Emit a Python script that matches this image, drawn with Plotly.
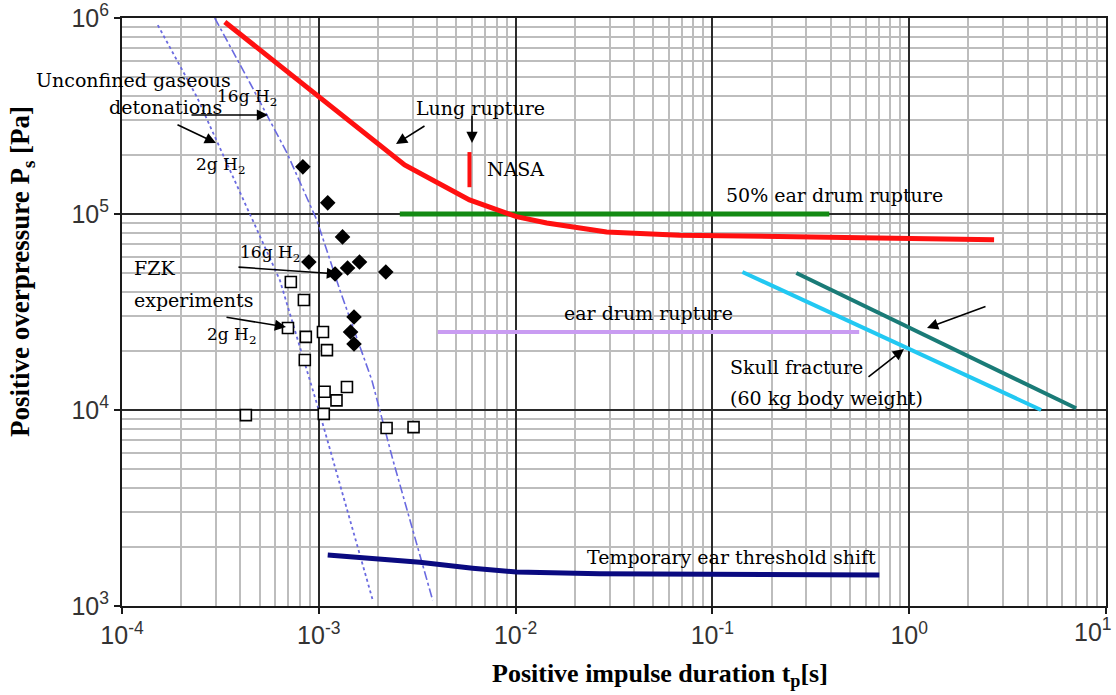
import plotly.graph_objects as go

# ---------------- data ----------------
lung_x = [3.33e-4, 1.0e-3, 2.73e-3, 5.83e-3, 1.01e-2, 1.44e-2, 2.9e-2, 6.8e-2, 2.7]
lung_y = [9.55e5, 4.0e5, 1.78e5, 1.18e5, 9.7e4, 9.0e4, 8.1e4, 7.8e4, 7.4e4]
nasa_x = [5.83e-3, 5.83e-3]
nasa_y = [2.07e5, 1.37e5]
ear50_x = [2.58e-3, 0.393]
ear50_y = [1.0e5, 1.0e5]
ear_x = [4.02e-3, 0.557]
ear_y = [2.5e4, 2.5e4]
skull_x = [0.142, 4.68]
skull_y = [5.06e4, 1.0e4]
skull2_x = [0.267, 7.05]
skull2_y = [5.0e4, 1.02e4]
tts_x = [1.11e-3, 3.26e-3, 6.05e-3, 1.01e-2, 2.67e-2, 0.705]
tts_y = [1.82e3, 1.67e3, 1.56e3, 1.49e3, 1.46e3, 1.44e3]
det2_x = [1.52e-4, 2.40e-4, 3.66e-4, 6.34e-4, 1.01e-3, 1.56e-3, 1.88e-3]
det2_y = [9.2e5, 3.96e5, 1.55e5, 4.6e4, 9.66e3, 2.09e3, 1.07e3]
det16_x = [2.96e-4, 4.47e-4, 6.89e-4, 9.77e-4, 1.28e-3, 1.86e-3, 2.38e-3, 3.26e-3, 3.79e-3]
det16_y = [1.0e6, 4.66e5, 2.05e5, 9.31e4, 4.09e4, 1.42e4, 5.56e3, 1.86e3, 1.07e3]
fzk16_x = [8.3e-4, 1.11e-3, 1.32e-3, 8.9e-4, 1.21e-3, 1.40e-3, 1.61e-3, 2.19e-3, 1.51e-3, 1.45e-3, 1.51e-3]
fzk16_y = [1.74e5, 1.14e5, 7.64e4, 5.69e4, 4.94e4, 5.30e4, 5.69e4, 5.06e4, 2.98e4, 2.50e4, 2.17e4]
fzk2_x = [7.21e-4, 8.40e-4, 6.97e-4, 8.59e-4, 1.05e-3, 1.10e-3, 8.49e-4, 1.07e-3, 1.39e-3, 1.23e-3, 1.06e-3, 4.26e-4, 2.21e-3, 3.03e-3]
fzk2_y = [4.50e4, 3.64e4, 2.62e4, 2.36e4, 2.50e4, 2.02e4, 1.80e4, 1.24e4, 1.31e4, 1.12e4, 9.55e3, 9.42e3, 8.09e3, 8.18e3]

x_tickvals = [1e-4, 1e-3, 1e-2, 1e-1, 1e0, 1e1]
x_ticktext = ["10<sup>-4</sup>", "10<sup>-3</sup>", "10<sup>-2</sup>", "10<sup>-1</sup>", "10<sup>0</sup>", "10<sup>1</sup>"]
y_tickvals = [1e3, 1e4, 1e5, 1e6]
y_ticktext = ["10<sup>3</sup>", "10<sup>4</sup>", "10<sup>5</sup>", "10<sup>6</sup>"]

# ---------------- layout geometry ----------------
W, H = 1116, 695
ML, MR, MT, MB = 122, 10, 18, 89
PW, PH = W - ML - MR, H - MT - MB

def pos(px, py):
    """pixel position -> log-axis coordinates (for annotation placement)"""
    return -4 + 5 * (px - ML) / PW, 6 - 3 * (py - MT) / PH

fig = go.Figure()

def line(x, y, color, width, dash="solid"):
    fig.add_trace(go.Scatter(x=x, y=y, mode="lines",
                             line=dict(color=color, width=width, dash=dash),
                             showlegend=False, hoverinfo="skip"))

line(det2_x, det2_y, "#6a6ae0", 1.8, "dot")
line(det16_x, det16_y, "#6a6ae0", 1.6, "dashdot")
line(ear50_x, ear50_y, "#138a13", 5)
line(ear_x, ear_y, "#c99cf2", 4)
line(lung_x, lung_y, "#ff1010", 5)
line(nasa_x, nasa_y, "#ff1010", 4)
line(skull_x, skull_y, "#22c8f2", 4)
line(skull2_x, skull2_y, "#1a7b77", 4)
line(tts_x, tts_y, "#0a0a80", 5)

fig.add_trace(go.Scatter(x=fzk16_x, y=fzk16_y, mode="markers",
                         marker=dict(symbol="diamond", size=12, color="black"),
                         showlegend=False, hoverinfo="skip"))
fig.add_trace(go.Scatter(x=fzk2_x, y=fzk2_y, mode="markers",
                         marker=dict(symbol="square", size=11, color="white",
                                     line=dict(color="black", width=1.6)),
                         showlegend=False, hoverinfo="skip"))

SERIF = "DejaVu Serif"
TICKFONT = dict(family="Liberation Sans", size=25, color="#333333")
ann = []

def text(px, py, s, size=19, xanchor="center"):
    x, y = pos(px, py)
    ann.append(dict(x=x, y=y, xref="x", yref="y", text=s, showarrow=False,
                    xanchor=xanchor, yanchor="middle",
                    font=dict(family=SERIF, size=size, color="black")))

def arrow(tx, ty, hx, hy):
    x, y = pos(hx, hy)
    ann.append(dict(x=x, y=y, xref="x", yref="y", text="", showarrow=True,
                    ax=tx - hx, ay=ty - hy, arrowhead=2, arrowsize=1.4,
                    arrowwidth=1.6, arrowcolor="black"))

text(133, 80, "Unconfined gaseous")
text(165, 107, "detonations")
text(247, 97, "16g H<sub>2</sub>", size=17)
text(221, 165, "2g H<sub>2</sub>", size=17)
arrow(190, 115, 268, 115)
arrow(176, 124, 216, 143)
text(480, 108, "Lung rupture")
arrow(426, 125, 396, 144)
arrow(472, 114, 472, 143)
text(485, 169, "NASA", xanchor="left")
text(834, 195, "50% ear drum rupture")
text(648, 313, "ear drum rupture")
text(728, 367, "Skull fracture", xanchor="left")
text(728, 398, "(60 kg body weight)", xanchor="left")
arrow(867, 378, 904, 349)
arrow(987, 306, 927, 328)
text(132, 268, "FZK", xanchor="left")
text(132, 300, "experiments", xanchor="left")
text(270, 253, "16g H<sub>2</sub>", size=17)
text(232, 335, "2g H<sub>2</sub>", size=17)
arrow(237, 267, 338, 274)
arrow(225, 317, 286, 327)
text(878, 557, "Temporary ear threshold shift", xanchor="right")

# last x tick label kept inside the page (right-anchored at the edge)
ann.append(dict(x=(W - 2 - ML) / PW, y=-(630 - MT - PH) / PH, xref="paper", yref="paper",
                text=x_ticktext[-1], showarrow=False, xanchor="right", yanchor="middle",
                font=TICKFONT))
x_ticktext_axis = x_ticktext[:-1] + [""]

# axis titles
ann.append(dict(x=(660 - ML) / PW, y=-(675 - MT - PH) / PH, xref="paper", yref="paper",
                text="<b>Positive impulse duration t<sub>p</sub>[s]</b>", showarrow=False,
                xanchor="center", yanchor="middle",
                font=dict(family="Liberation Serif", size=26, color="black")))
ann.append(dict(x=(22 - ML) / PW, y=1 - (272 - MT) / PH, xref="paper", yref="paper",
                text="<b>Positive overpressure P<sub>s</sub> [Pa]</b>", showarrow=False,
                textangle=-90, xanchor="center", yanchor="middle",
                font=dict(family="Liberation Serif", size=27, color="black")))

axis_common = dict(
    type="log", showgrid=True, gridcolor="#2a2a2a", gridwidth=1.5,
    showline=True, linecolor="#1a1a1a", linewidth=2, mirror=True,
    ticks="outside", ticklen=6, tickcolor="#1a1a1a", tickwidth=1.5,
    tickfont=TICKFONT,
    zeroline=False, ticklabeloverflow="allow", automargin=False,
    minor=dict(dtick="D1", showgrid=True, gridcolor="#bdbdbd", gridwidth=1.5, ticks=""),
)
fig.update_xaxes(range=[-4, 1], tickvals=x_tickvals, ticktext=x_ticktext_axis, **axis_common)
fig.update_yaxes(range=[3, 6], tickvals=y_tickvals, ticktext=y_ticktext, **axis_common)

fig.update_layout(
    width=W, height=H, margin=dict(l=ML, r=MR, t=MT, b=MB, autoexpand=False),
    plot_bgcolor="white", paper_bgcolor="white",
    annotations=ann, showlegend=False,
)
fig.write_html("out.html")
